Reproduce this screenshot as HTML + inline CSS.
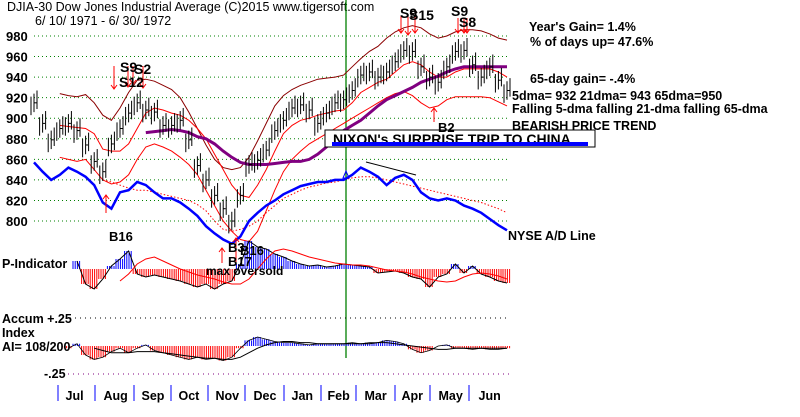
<!DOCTYPE html>
<html><head><meta charset="utf-8">
<style>
body{margin:0;background:#fff;width:800px;height:417px;overflow:hidden}
svg{display:block}
text{font-family:"Liberation Sans",sans-serif;font-weight:bold;fill:#000}
</style></head>
<body>
<svg id="chart" width="800" height="417" xmlns="http://www.w3.org/2000/svg"></svg>
<script>
// ---- data (weekly, Jun 1971 - Jun 1972) ----
const months = ["Jul","Aug","Sep","Oct","Nov","Dec","Jan","Feb","Mar","Apr","May","Jun"];
const priceTicks = [980,960,940,920,900,880,860,840,820,800];
const closes = [915,895,879,890,895,888,874,858,848,875,890,905,915,908,906,893,893,898,879,854,840,825,812,800,825,855,859,869,888,898,910,913,908,895,905,915,918,927,942,945,940,945,955,966,965,950,940,935,950,965,966,952,940,950,937,927];
const upperBand = [null,null,null,924,922,921,923,915,903,898,910,925,937,938,936,932,928,920,906,890,874,860,852,850,852,862,878,895,912,922,928,932,935,938,939,940,942,950,958,965,970,978,984,988,990,988,982,978,980,984,986,986,985,982,978,976];
const redUpper = [null,null,null,893,892,891,890,885,870,868,868,875,890,905,910,908,905,903,898,890,880,865,850,835,825,823,835,850,868,885,893,898,900,903,905,907,908,915,925,930,935,938,945,952,955,952,945,940,940,945,948,948,948,948,945,940];
const redLower = [null,null,null,862,860,858,860,850,840,836,838,845,860,872,875,872,868,862,855,845,830,815,800,790,782,780,790,810,830,848,860,868,875,880,885,890,895,900,905,910,915,920,924,926,922,915,910,912,918,921,921,921,921,920,916,912];
const ma65 = [null,null,null,null,null,null,null,null,null,null,null,null,null,886,887,888,889,888,886,882,880,875,868,862,857,855,855,855,856,857,858,858,860,865,872,880,888,893,898,905,912,918,922,926,930,935,938,941,945,948,950,950,950,950,950,950];
const adLine = [857,848,840,845,852,848,843,835,818,812,828,830,838,835,828,822,822,818,812,805,795,788,782,778,785,800,808,815,820,826,830,834,836,838,838,840,840,845,852,848,843,835,842,845,840,828,822,820,822,820,815,812,808,802,796,791];
const adMa = [null,null,null,null,null,null,null,null,840,838,835,832,830,830,828,826,824,822,820,816,810,800,792,790,792,795,800,808,815,822,826,830,833,835,837,838,840,842,843,843,842,840,838,836,834,832,830,828,826,824,822,820,818,815,812,808];
const pInd = [null,null,null,null,null,8,-15,-20,-10,3,10,18,-5,-8,-6,-8,-10,-12,-15,-18,-15,-20,-15,-12,5,28,22,20,15,12,8,5,3,4,2,3,5,4,3,2,-4,-3,-2,-4,-8,-10,-18,-8,-5,5,-4,3,-5,-8,-12,-14];
const pMa = [null,null,null,null,null,null,null,null,null,null,-12,-5,5,10,12,8,4,0,-3,-6,-8,-10,-13,-15,-15,-10,0,10,18,20,18,15,12,10,8,6,5,4,4,3,1,-1,-2,-3,-5,-8,-10,-12,-13,-12,-8,-5,-4,-5,-7,-10];
const accum = [null,null,null,null,-0.02,0.02,-0.08,-0.12,-0.10,-0.05,-0.02,-0.06,-0.02,0.01,-0.04,-0.06,-0.08,-0.10,-0.12,-0.10,-0.12,-0.11,-0.13,-0.10,-0.02,0.05,0.08,0.06,0.04,0.03,0.03,0.02,0.01,0.02,0.02,0.02,0.02,0.03,0.02,0.03,0.03,0.05,0.04,0.02,-0.03,-0.06,-0.04,0.00,0.01,-0.02,-0.02,-0.03,-0.02,-0.03,-0.03,-0.02];
const accumMa = [null,null,null,null,null,null,null,-0.02,-0.04,-0.06,-0.06,-0.06,-0.05,-0.05,-0.05,-0.06,-0.07,-0.08,-0.09,-0.10,-0.11,-0.11,-0.12,-0.12,-0.10,-0.06,-0.02,0.01,0.03,0.04,0.04,0.03,0.03,0.02,0.02,0.02,0.02,0.02,0.02,0.02,0.03,0.03,0.02,0.01,0.00,-0.01,-0.02,-0.03,-0.03,-0.02,-0.02,-0.02,-0.02,-0.02,-0.02,-0.02];

// ---- axes ----
const X0=34, DX=8.6;
const xs = i => X0 + i*DX;
const yP = v => 36 + (980 - v)*1.028;
const P0 = 269, yPi = v => P0 - v;
const A0 = 346, yA = v => A0 - v*112;
const monthSep=[58,95,134,171,208,245,284,321,356,395,430,469];

const svg=document.getElementById('chart');
const NS="http://www.w3.org/2000/svg";
function mk(tag,attrs,parent){const e=document.createElementNS(NS,tag);for(const k in attrs)e.setAttribute(k,attrs[k]);(parent||svg).appendChild(e);return e;}
function txt(s,x,y,size,fill,name){const t=mk('text',{x:x,y:y,'font-size':size});if(fill)t.style.fill=fill;t.textContent=s;


return t;}
function line(arr,yf,color,w,name,dash){let d='';let pen=false;arr.forEach((v,i)=>{if(v===null){pen=false;return;}d+=(pen?'L':'M')+xs(i).toFixed(1)+' '+yf(v).toFixed(1)+' ';pen=true;});
const p=mk('path',{d:d,fill:'none',stroke:color,'stroke-width':w});if(dash)p.setAttribute('stroke-dasharray',dash);


return p;}

// grid
priceTicks.forEach(v=>{
  const g=mk('line',{x1:34,x2:508,y1:yP(v),y2:yP(v),stroke:'#008000','stroke-dasharray':'1,3','stroke-width':1});
  
  
  txt(String(v),6,yP(v)+5,13,null,'y-tick-'+v);
});
// title
const tt=txt("DJIA-30  Dow Jones Industrial Average    (C)2015 www.tigersoft.com",7,11,12.5,null,'chart-title');
tt.style.fontWeight='normal';
const td=txt("6/ 10/ 1971 - 6/ 30/ 1972",35,25,12.5,null,'date-range');
td.style.fontWeight='normal';

// green vertical
const gv=mk('line',{x1:346,x2:346,y1:0,y2:358,stroke:'#008000','stroke-width':1.3});



// bands & MAs
line(upperBand,yP,'#8b0000',1,'upper-band');
line(redUpper,yP,'#ff0000',1,'band-21dma-upper');
line(redLower,yP,'#ff0000',1,'band-21dma-lower');
line(adMa,yP,'#ff0000',1,'ad-line-ma','1.5,2');
line(ma65,yP,'#800080',3,'ma65-line');
line(adLine,yP,'#0000ff',2.5,'nyse-ad-line');

// price bars
closes.forEach((c,i)=>{
  for(let k=0;k<3;k++){
    const x=xs(i)-3+k*3, o=(k-1)*3;
    const b=mk('line',{x1:x,x2:x,y1:yP(c+9+o),y2:yP(c-9+o),stroke:'#000','stroke-width':1});
    
    
  }
  const t=mk('line',{x1:xs(i),x2:xs(i)+2.5,y1:yP(c),y2:yP(c),stroke:'#000','stroke-width':1});
  
  
});

// P-indicator bars
pInd.forEach((v,i)=>{ if(v===null)return;
  for(let k=0;k<4;k++){
    const x=xs(i)-4+k*2.2;
    const b=mk('line',{x1:x,x2:x,y1:P0,y2:yPi(v),stroke:v>=0?'#0000ff':'#ff0000','stroke-width':1});
    
    
  }
});
line(pInd,yPi,'#000',1,'p-indicator-outline');
line(pMa,yPi,'#ff0000',1,'p-indicator-ma');

// Accum bars
const ap=mk('line',{x1:70,x2:510,y1:318,y2:318,stroke:'#000','stroke-dasharray':'1,4'});

const am=mk('line',{x1:68,x2:510,y1:374,y2:374,stroke:'#800080','stroke-dasharray':'1,4'});

accum.forEach((v,i)=>{ if(v===null)return;
  for(let k=0;k<4;k++){
    const x=xs(i)-4+k*2.2;
    const b=mk('line',{x1:x,x2:x,y1:A0,y2:yA(v),stroke:v>=0?'#0000ff':'#ff0000','stroke-width':1});
    
    
  }
});
line(accum,yA,'#000',0.8,'accum-outline');
line(accumMa,yA,'#000',1,'accum-ma');

// left labels
txt("P-Indicator",2,268,12.5,null,'p-indicator-label');
txt("Accum +.25",2,323,12.5,null,'accum-label');
txt("Index",2,337,12.5,null,'index-label');
txt("AI= 108/200",2,351,12.5,null,'ai-label');
txt("-.25",44,378,12.5,null,'accum-minus-label');

// months
monthSep.forEach((x,i)=>{
  const s=mk('line',{x1:x,x2:x,y1:385,y2:401,stroke:'#0000ff','stroke-width':1});
  
  
  const nx = i<monthSep.length-1 ? monthSep[i+1] : 510;
  txt(months[i],(x+nx)/2-11,400,12.5,null,'month-label-'+months[i].toLowerCase());
});

// right-side stats
txt("Year's Gain= 1.4%",529,31,12.5,null,'years-gain');
txt("% of days up= 47.6%",530,46,12.5,null,'days-up');
txt("65-day gain= -.4%",530,83,12.5,null,'65-day-gain');
txt("5dma= 932 21dma= 943 65dma=950",512,100,12.5,null,'dma-values');
txt("Falling 5-dma falling 21-dma falling 65-dma",512,113,12.5,null,'dma-trend');
txt("BEARISH PRICE TREND",512,130,12.5,null,'bearish-trend');
txt("NYSE A/D Line",508,240,12.5,null,'ad-line-label');

// Nixon box
const nb=mk('rect',{x:325,y:130,width:270,height:17,fill:'#fff',stroke:'#000','stroke-width':1});

txt("NIXON's SURPRISE TRIP TO CHINA",333,144,14,null,'nixon-annotation-text');
const nl=mk('line',{x1:332,x2:588,y1:144,y2:144,stroke:'#0000ff','stroke-width':4});


// signals
function arrow(x,y1,y2,name){const a=mk('path',{d:`M${x} ${y1} L${x} ${y2} M${x-3} ${y2+(y2>y1?-4:4)} L${x} ${y2} L${x+3} ${y2+(y2>y1?-4:4)}`,stroke:'#ff0000',fill:'none','stroke-width':1});
}
arrow(114,66,89,'sell-arrow');arrow(128,66,87,'sell-arrow');arrow(133,66,84,'sell-arrow');arrow(143,66,88,'sell-arrow');
txt("S9",120,72,14,null,'signal-s9');txt("S2",134,74,14,null,'signal-s2');txt("S12",119,87,14,null,'signal-s12');
arrow(106,213,195,'buy-arrow');txt("B16",109,241,13,null,'signal-b16');
arrow(401,16,33,'sell-arrow');arrow(408,16,35,'sell-arrow');arrow(415,16,33,'sell-arrow');
txt("S9",400,18,14,null,'signal-s9-apr');txt("S15",409,20,14,null,'signal-s15');
arrow(458,18,33,'sell-arrow');arrow(464,18,33,'sell-arrow');arrow(467,18,33,'sell-arrow');
txt("S9",451,16,14,null,'signal-s9-may');txt("S8",459,27,14,null,'signal-s8');
arrow(434,122,108,'buy-arrow');txt("B2",438,132,13,null,'signal-b2');
arrow(222,263,248,'buy-arrow');arrow(236,263,238,'buy-arrow');
txt("B3",228,252,13,null,'signal-b3');txt("B16",240,255,13,null,'signal-b16-nov');
txt("B17",228,266,13,null,'signal-b17');txt("max oversold",206,275,12,null,'max-oversold');
const pt=mk('path',{d:'M343 178 L346 171 L349 178 Z',fill:'none',stroke:'#0000ff'});

const dl=mk('line',{x1:366,x2:416,y1:162,y2:175,stroke:'#000','stroke-width':1});

</script>
</body></html>
